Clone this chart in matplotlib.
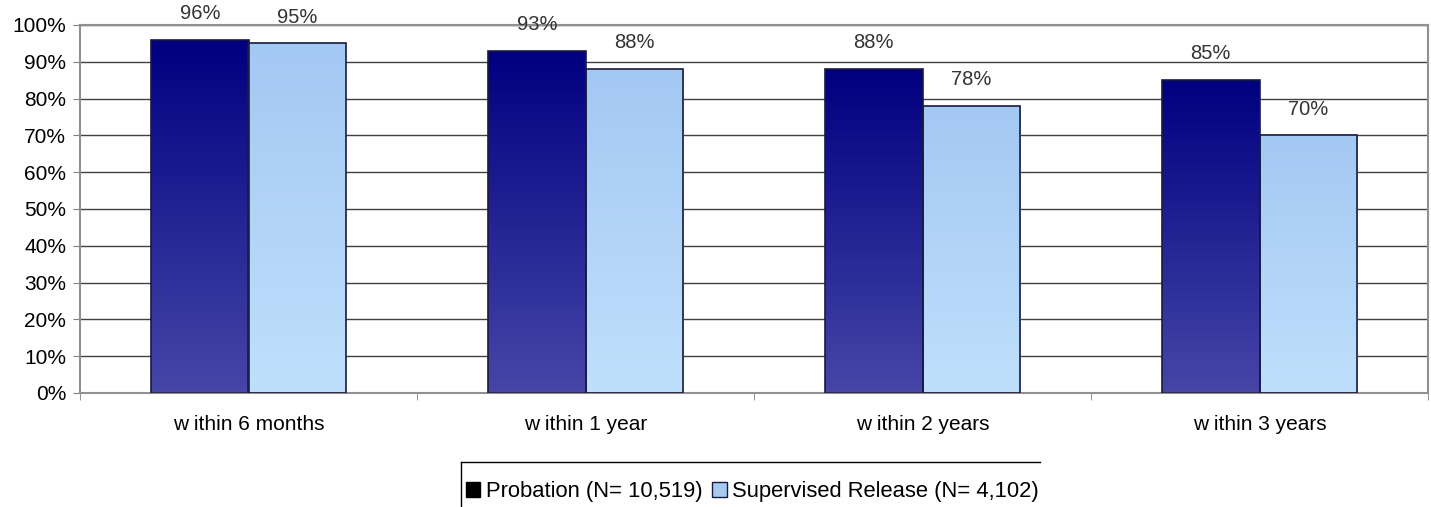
import numpy as np
import matplotlib
matplotlib.use("Agg")
import matplotlib.pyplot as plt
from matplotlib.patches import Patch
from matplotlib.lines import Line2D
from matplotlib.colors import LinearSegmentedColormap

plt.rcParams['font.family'] = ['Liberation Sans', 'DejaVu Sans']

# data
categories = ['w ithin 6 months', 'w ithin 1 year', 'w ithin 2 years', 'w ithin 3 years']
probation = [96, 93, 88, 85]
supervised = [95, 88, 78, 70]
series_names = ['Probation (N= 10,519)', 'Supervised Release (N= 4,102)']
y_ticks = [0, 10, 20, 30, 40, 50, 60, 70, 80, 90, 100]

fig = plt.figure(figsize=(14.31, 5.07), dpi=100)
ax = fig.add_axes([80/1431, 114/507, 1348/1431, 368/507])

# gradient colormaps (top -> bottom)
cmap_prob = LinearSegmentedColormap.from_list('prob', ['#000080', '#4646a8'])
cmap_sup = LinearSegmentedColormap.from_list('sup', ['#a3c8f2', '#bfe0fc'])

x = np.arange(len(categories)) + 0.5
w = 0.289
grad = np.linspace(0, 1, 256).reshape(-1, 1)

def gradient_bars(xs, vals, cmap):
    bars = ax.bar(xs, vals, width=w, color='none', edgecolor='#1a1a40', linewidth=1.2, zorder=3)
    for b in bars:
        x0, y0 = b.get_x(), b.get_y()
        im = ax.imshow(grad, cmap=cmap, aspect='auto', origin='upper',
                       extent=[x0, x0 + b.get_width(), y0, y0 + b.get_height()], zorder=2)
        im.set_clip_path(b)
    return bars

bp = gradient_bars(x - w/2, probation, cmap_prob)
bs = gradient_bars(x + w/2, supervised, cmap_sup)

fs = 15

# value labels above bars
for bars, vals in [(bp, probation), (bs, supervised)]:
    for b, v in zip(bars, vals):
        ax.annotate('%d%%' % v, xy=(b.get_x() + b.get_width()/2, v),
                    xytext=(0, 19), textcoords='offset points',
                    ha='center', va='center', fontsize=fs - 0.5, color='#333333',
                    annotation_clip=False)

ax.set_xlim(0, len(categories))
ax.set_ylim(0, 100)
ax.set_yticks(y_ticks)
ax.set_yticklabels(['%d%%' % t for t in y_ticks])
ax.yaxis.grid(True, color='#404040', linewidth=1, zorder=1)
ax.set_axisbelow(True)

ax.set_xticks(x)
ax.set_xticklabels(categories)
ax.set_xticks(np.arange(len(categories) + 1), minor=True)
ax.tick_params(axis='x', which='major', length=0, pad=16, labelsize=fs)
ax.tick_params(axis='x', which='minor', length=5, color='#808080')
ax.tick_params(axis='y', length=5, color='#808080', labelsize=fs, pad=5)

for s in ax.spines.values():
    s.set_color('#909090')
    s.set_linewidth(1.5)

# legend, box cut off by the bottom of the image
handles = [Patch(facecolor='#000000', edgecolor='#000000'),
           Patch(facecolor='#a6caf0', edgecolor='#1a1a40')]
leg = fig.legend(handles, series_names, loc='center left',
                 bbox_to_anchor=(466/1431, 15/507), frameon=False,
                 fontsize=15.8, handlelength=0.65, handleheight=0.65,
                 handletextpad=0.25, columnspacing=0.45, ncol=2, borderpad=0,
                 borderaxespad=0)
fig.add_artist(Line2D([461/1431, 1040/1431], [45/507, 45/507], color='#000000', lw=1))
fig.add_artist(Line2D([461/1431, 461/1431], [0, 45/507], color='#000000', lw=1))

fig.savefig('out.png', dpi=100)
